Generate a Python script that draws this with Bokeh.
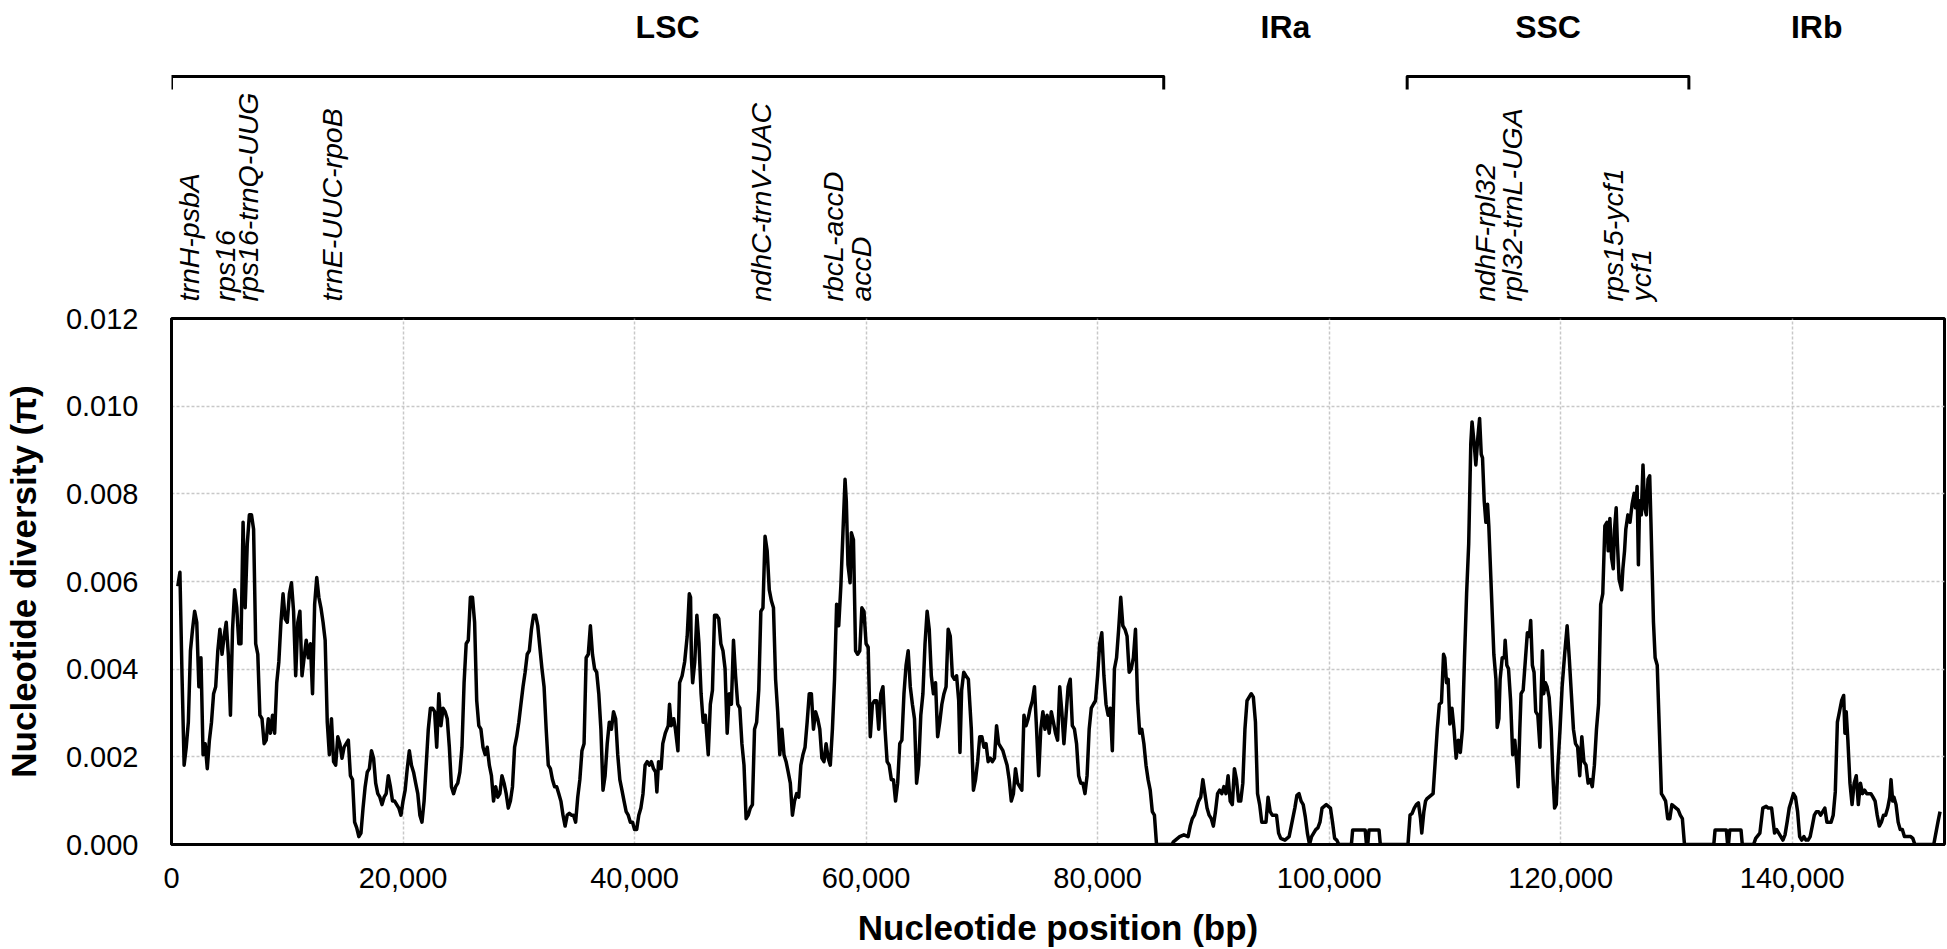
import math
from bokeh.plotting import figure
from bokeh.models import Range1d, FixedTicker, NumeralTickFormatter, PrintfTickFormatter
from bokeh.layouts import column
from bokeh.embed import file_html
from bokeh.resources import INLINE
from bokeh.core.properties import value

# ---------------- data ----------------
positions = [
    545, 727, 909, 1091, 1273, 1454, 1636, 1818, 2000, 2182, 2364, 2545, 2727, 2909, 3091, 3273, 3454, 3636, 3818, 4000,
    4182, 4364, 4545, 4727, 4909, 5091, 5273, 5454, 5636, 5818, 6000, 6182, 6364, 6545, 6727, 6909, 7091, 7273, 7454, 7636,
    7818, 8000, 8182, 8364, 8545, 8727, 8909, 9091, 9273, 9454, 9636, 9818, 10000, 10182, 10364, 10545, 10727, 10909, 11091, 11273,
    11454, 11636, 11818, 12000, 12182, 12364, 12545, 12727, 12909, 13091, 13273, 13454, 13636, 13818, 14000, 14182, 14364, 14545, 14727, 14909,
    15091, 15273, 15454, 15636, 15818, 16000, 16182, 16364, 16545, 16727, 16909, 17091, 17273, 17454, 17636, 17818, 18000, 18182, 18364, 18545,
    18727, 18909, 19091, 19273, 19454, 19636, 19818, 20000, 20182, 20364, 20545, 20727, 20909, 21091, 21273, 21454, 21636, 21818, 22000, 22182,
    22364, 22545, 22727, 22909, 23091, 23273, 23454, 23636, 23818, 24000, 24182, 24364, 24545, 24727, 24909, 25091, 25273, 25454, 25636, 25818,
    26000, 26182, 26364, 26545, 26727, 26909, 27091, 27273, 27454, 27636, 27818, 28000, 28182, 28364, 28545, 28727, 28909, 29091, 29273, 29454,
    29636, 29818, 30000, 30182, 30364, 30545, 30727, 30909, 31091, 31273, 31454, 31636, 31818, 32000, 32182, 32364, 32545, 32727, 32909, 33091,
    33273, 33454, 33636, 33818, 34000, 34182, 34364, 34545, 34727, 34909, 35091, 35273, 35454, 35636, 35818, 36000, 36182, 36364, 36545, 36727,
    36909, 37091, 37273, 37454, 37636, 37818, 38000, 38182, 38364, 38545, 38727, 38909, 39091, 39273, 39454, 39636, 39818, 40000, 40182, 40364,
    40545, 40727, 40909, 41091, 41273, 41454, 41636, 41818, 41927, 42072, 42290, 42436, 42654, 42908, 43018, 43163, 43381, 43527, 43745, 43890,
    44108, 44327, 44545, 44727, 44835, 44908, 45017, 45199, 45381, 45563, 45744, 45926, 46108, 46363, 46544, 46726, 46908, 47090, 47272, 47453,
    47635, 47817, 47999, 48181, 48362, 48544, 48726, 48908, 49090, 49271, 49453, 49635, 49817, 49999, 50180, 50362, 50544, 50726, 50908, 51089,
    51271, 51453, 51635, 51817, 51998, 52180, 52362, 52544, 52726, 52907, 53089, 53271, 53453, 53635, 53816, 53998, 54180, 54362, 54544, 54725,
    54907, 55089, 55271, 55453, 55634, 55816, 55998, 56180, 56362, 56543, 56725, 56907, 57089, 57271, 57452, 57634, 57816, 57998, 58180, 58289,
    58434, 58616, 58725, 58907, 59089, 59270, 59452, 59634, 59816, 59998, 60179, 60361, 60543, 60725, 60907, 61088, 61270, 61452, 61634, 61816,
    61997, 62179, 62361, 62543, 62725, 62906, 63088, 63270, 63452, 63634, 63815, 63997, 64179, 64361, 64543, 64724, 64906, 65088, 65270, 65452,
    65633, 65815, 65997, 66179, 66361, 66542, 66724, 66906, 67088, 67270, 67451, 67633, 67815, 67997, 68106, 68251, 68433, 68615, 68833, 69088,
    69269, 69451, 69633, 69815, 69997, 70178, 70360, 70542, 70724, 70906, 71087, 71269, 71451, 71633, 71815, 71996, 72178, 72360, 72542, 72724,
    72905, 73087, 73269, 73451, 73633, 73814, 73996, 74178, 74360, 74542, 74723, 74905, 75087, 75269, 75451, 75632, 75814, 75996, 76178, 76360,
    76541, 76723, 76905, 77087, 77269, 77450, 77632, 77814, 77996, 78178, 78359, 78541, 78723, 78905, 79087, 79268, 79450, 79632, 79814, 79996,
    80177, 80359, 80541, 80723, 80905, 81086, 81268, 81450, 81632, 81814, 81995, 82177, 82359, 82541, 82723, 82904, 83086, 83268, 83450, 83632,
    83813, 83995, 84177, 84359, 84541, 84722, 84904, 85086, 85268, 86433, 86540, 86722, 87086, 87449, 87813, 87995, 88177, 88358, 88540, 88722,
    88904, 89086, 89267, 89449, 89631, 89813, 89995, 90176, 90358, 90540, 90722, 90904, 91085, 91267, 91449, 91631, 91813, 91994, 92176, 92358,
    92540, 92722, 92903, 93085, 93267, 93449, 93631, 93812, 93994, 94176, 94358, 94540, 94721, 94903, 95085, 95267, 95449, 95630, 95812, 96176,
    96539, 96721, 96851, 97032, 97213, 97394, 97575, 97756, 97937, 98118, 98299, 98480, 98660, 98841, 99022, 99203, 99384, 99565, 99746, 99927,
    100108, 100289, 100470, 100651, 100832, 101918, 102026, 103112, 103220, 103329, 103437, 104306, 104414, 106803, 106984, 107165, 107346, 107527, 107708, 107889,
    107997, 108178, 108323, 108432, 108613, 108794, 108975, 109156, 109337, 109517, 109698, 109879, 109988, 110133, 110277, 110422, 110603, 110784, 110965, 111146,
    111327, 111508, 111689, 111870, 112051, 112232, 112340, 112521, 112666, 112847, 112992, 113136, 113245, 113390, 113535, 113679, 113788, 113969, 114114, 114222,
    114403, 114512, 114657, 114765, 114946, 115127, 115199, 115344, 115489, 115670, 115851, 116032, 116213, 116321, 116466, 116575, 116755, 116936, 117117, 117298,
    117407, 117552, 117696, 117841, 118022, 118203, 118312, 118420, 118529, 118674, 118818, 118999, 119180, 119325, 119470, 119614, 119759, 119940, 120121, 120338,
    120555, 120736, 120917, 121098, 121279, 121460, 121641, 121822, 122003, 122184, 122365, 122546, 122727, 122908, 123089, 123270, 123451, 123632, 123813, 123993,
    124102, 124247, 124392, 124536, 124645, 124790, 124898, 125043, 125260, 125369, 125513, 125622, 125803, 125984, 126165, 126346, 126454, 126599, 126708, 126816,
    126961, 127106, 127251, 127395, 127540, 127685, 127793, 127902, 128011, 128155, 128336, 128517, 128698, 128879, 129060, 129241, 129422, 129603, 129784, 129965,
    130146, 130327, 130508, 130689, 133222, 133330, 134308, 134416, 134489, 134597, 135574, 135683, 136660, 136841, 137203, 137456, 137746, 137927, 138216, 138470,
    138650, 138831, 139012, 139193, 139374, 139555, 139736, 139917, 140098, 140279, 140460, 140640, 140821, 141002, 141183, 141364, 141545, 141726, 141907, 142088,
    142269, 142450, 142631, 142812, 142993, 143174, 143355, 143536, 143717, 143898, 144079, 144260, 144441, 144550, 144658, 144803, 144984, 145165, 145346, 145527,
    145707, 145888, 146069, 146250, 146431, 146612, 146793, 146974, 147155, 147336, 147517, 147698, 147879, 148060, 148241, 148422, 148530, 148675, 148784, 148965,
    149146, 149326, 149507, 149688, 150231, 150412, 150592, 152221, 152583, 152764,
]

diversity = [
    0.00589, 0.00621, 0.00385, 0.00181, 0.00222, 0.00279, 0.00442, 0.00491, 0.00532, 0.00507, 0.00360, 0.00426, 0.00205, 0.00230, 0.00173, 0.00238, 0.00279, 0.00344, 0.00360, 0.00442,
    0.00491, 0.00434, 0.00475, 0.00507, 0.00434, 0.00295, 0.00491, 0.00581, 0.00540, 0.00458, 0.00458, 0.00735, 0.00540, 0.00686, 0.00752, 0.00752, 0.00719, 0.00458, 0.00434, 0.00295,
    0.00287, 0.00230, 0.00238, 0.00287, 0.00254, 0.00295, 0.00254, 0.00369, 0.00417, 0.00507, 0.00572, 0.00515, 0.00507, 0.00572, 0.00597, 0.00532, 0.00385, 0.00507, 0.00532, 0.00385,
    0.00426, 0.00466, 0.00426, 0.00458, 0.00344, 0.00548, 0.00609, 0.00564, 0.00540, 0.00507, 0.00466, 0.00279, 0.00205, 0.00287, 0.00189, 0.00181, 0.00246, 0.00230, 0.00197, 0.00222,
    0.00230, 0.00238, 0.00157, 0.00148, 0.00051, 0.00038, 0.00018, 0.00026, 0.00083, 0.00132, 0.00165, 0.00173, 0.00214, 0.00197, 0.00140, 0.00116, 0.00108, 0.00091, 0.00108, 0.00116,
    0.00157, 0.00132, 0.00099, 0.00099, 0.00091, 0.00083, 0.00067, 0.00099, 0.00124, 0.00173, 0.00214, 0.00181, 0.00165, 0.00140, 0.00116, 0.00067, 0.00051, 0.00099, 0.00181, 0.00263,
    0.00311, 0.00311, 0.00303, 0.00222, 0.00344, 0.00271, 0.00311, 0.00303, 0.00287, 0.00222, 0.00132, 0.00116, 0.00132, 0.00140, 0.00165, 0.00222, 0.00369, 0.00458, 0.00466, 0.00564,
    0.00564, 0.00507, 0.00328, 0.00271, 0.00263, 0.00222, 0.00205, 0.00222, 0.00181, 0.00157, 0.00099, 0.00132, 0.00108, 0.00116, 0.00157, 0.00140, 0.00116, 0.00083, 0.00099, 0.00132,
    0.00222, 0.00246, 0.00279, 0.00320, 0.00360, 0.00393, 0.00434, 0.00442, 0.00491, 0.00523, 0.00523, 0.00499, 0.00450, 0.00401, 0.00360, 0.00263, 0.00181, 0.00173, 0.00148, 0.00132,
    0.00132, 0.00116, 0.00099, 0.00067, 0.00042, 0.00067, 0.00071, 0.00067, 0.00067, 0.00051, 0.00108, 0.00148, 0.00214, 0.00230, 0.00426, 0.00434, 0.00499, 0.00434, 0.00401, 0.00393,
    0.00344, 0.00263, 0.00124, 0.00157, 0.00230, 0.00279, 0.00263, 0.00303, 0.00287, 0.00205, 0.00148, 0.00124, 0.00099, 0.00075, 0.00067, 0.00051, 0.00051, 0.00034, 0.00034, 0.00067,
    0.00083, 0.00116, 0.00181, 0.00189, 0.00181, 0.00189, 0.00173, 0.00165, 0.00120, 0.00189, 0.00173, 0.00230, 0.00254, 0.00271, 0.00320, 0.00271, 0.00287, 0.00263, 0.00214, 0.00369,
    0.00385, 0.00417, 0.00475, 0.00572, 0.00564, 0.00426, 0.00369, 0.00417, 0.00523, 0.00458, 0.00344, 0.00279, 0.00295, 0.00205, 0.00320, 0.00352, 0.00523, 0.00523, 0.00515, 0.00458,
    0.00442, 0.00401, 0.00254, 0.00344, 0.00320, 0.00466, 0.00385, 0.00320, 0.00311, 0.00230, 0.00181, 0.00059, 0.00067, 0.00083, 0.00091, 0.00263, 0.00279, 0.00352, 0.00532, 0.00540,
    0.00703, 0.00670, 0.00581, 0.00556, 0.00540, 0.00377, 0.00303, 0.00205, 0.00263, 0.00205, 0.00189, 0.00165, 0.00140, 0.00067, 0.00099, 0.00116, 0.00108, 0.00181, 0.00205, 0.00222,
    0.00279, 0.00344, 0.00344, 0.00263, 0.00303, 0.00287, 0.00263, 0.00197, 0.00189, 0.00230, 0.00197, 0.00181, 0.00263, 0.00377, 0.00548, 0.00499, 0.00589, 0.00711, 0.00833, 0.00784,
    0.00638, 0.00597, 0.00711, 0.00695, 0.00442, 0.00434, 0.00442, 0.00540, 0.00532, 0.00458, 0.00450, 0.00246, 0.00320, 0.00328, 0.00328, 0.00263, 0.00344, 0.00360, 0.00263, 0.00189,
    0.00181, 0.00148, 0.00148, 0.00099, 0.00140, 0.00230, 0.00238, 0.00344, 0.00409, 0.00442, 0.00360, 0.00320, 0.00287, 0.00140, 0.00181, 0.00295, 0.00344, 0.00458, 0.00532, 0.00491,
    0.00385, 0.00344, 0.00369, 0.00246, 0.00279, 0.00320, 0.00344, 0.00360, 0.00491, 0.00475, 0.00385, 0.00377, 0.00385, 0.00328, 0.00210, 0.00352, 0.00393, 0.00385, 0.00377, 0.00263,
    0.00124, 0.00148, 0.00189, 0.00246, 0.00246, 0.00222, 0.00230, 0.00189, 0.00197, 0.00189, 0.00197, 0.00271, 0.00230, 0.00222, 0.00214, 0.00197, 0.00181, 0.00148, 0.00099, 0.00116,
    0.00173, 0.00140, 0.00132, 0.00124, 0.00295, 0.00271, 0.00287, 0.00311, 0.00328, 0.00360, 0.00263, 0.00157, 0.00263, 0.00303, 0.00263, 0.00295, 0.00254, 0.00303, 0.00279, 0.00254,
    0.00238, 0.00360, 0.00303, 0.00230, 0.00295, 0.00360, 0.00377, 0.00271, 0.00263, 0.00230, 0.00157, 0.00140, 0.00140, 0.00116, 0.00157, 0.00263, 0.00311, 0.00320, 0.00328, 0.00385,
    0.00458, 0.00483, 0.00385, 0.00320, 0.00295, 0.00311, 0.00214, 0.00401, 0.00426, 0.00491, 0.00564, 0.00499, 0.00491, 0.00475, 0.00393, 0.00401, 0.00426, 0.00491, 0.00328, 0.00254,
    0.00263, 0.00230, 0.00181, 0.00148, 0.00124, 0.00075, 0.00067, 0.00000, 0.00000, 0.00000, 0.00006, 0.00010, 0.00018, 0.00022, 0.00018, 0.00042, 0.00059, 0.00067, 0.00083, 0.00099,
    0.00108, 0.00148, 0.00116, 0.00083, 0.00067, 0.00059, 0.00042, 0.00075, 0.00116, 0.00124, 0.00116, 0.00132, 0.00116, 0.00157, 0.00099, 0.00091, 0.00173, 0.00148, 0.00099, 0.00099,
    0.00140, 0.00263, 0.00328, 0.00336, 0.00344, 0.00336, 0.00279, 0.00116, 0.00091, 0.00051, 0.00051, 0.00051, 0.00108, 0.00075, 0.00067, 0.00067, 0.00067, 0.00026, 0.00014, 0.00010,
    0.00018, 0.00042, 0.00059, 0.00083, 0.00112, 0.00116, 0.00099, 0.00091, 0.00063, 0.00026, 0.00000, 0.00018, 0.00026, 0.00034, 0.00038, 0.00051, 0.00083, 0.00087, 0.00091, 0.00087,
    0.00083, 0.00051, 0.00014, 0.00010, 0.00000, 0.00000, 0.00033, 0.00033, 0.00000, 0.00000, 0.00033, 0.00033, 0.00000, 0.00000, 0.00067, 0.00071, 0.00083, 0.00091, 0.00095, 0.00059,
    0.00026, 0.00075, 0.00099, 0.00104, 0.00108, 0.00112, 0.00116, 0.00189, 0.00263, 0.00320, 0.00324, 0.00434, 0.00426, 0.00369, 0.00377, 0.00275, 0.00311, 0.00263, 0.00197, 0.00238,
    0.00210, 0.00263, 0.00426, 0.00572, 0.00686, 0.00915, 0.00964, 0.00915, 0.00866, 0.00931, 0.00972, 0.00890, 0.00882, 0.00784, 0.00735, 0.00776, 0.00727, 0.00605, 0.00507, 0.00434,
    0.00377, 0.00267, 0.00287, 0.00377, 0.00426, 0.00426, 0.00466, 0.00409, 0.00401, 0.00328, 0.00205, 0.00238, 0.00181, 0.00132, 0.00263, 0.00344, 0.00352, 0.00417, 0.00483, 0.00475,
    0.00511, 0.00409, 0.00393, 0.00303, 0.00295, 0.00222, 0.00344, 0.00442, 0.00344, 0.00369, 0.00360, 0.00336, 0.00263, 0.00157, 0.00083, 0.00091, 0.00181, 0.00263, 0.00360, 0.00434,
    0.00499, 0.00426, 0.00344, 0.00263, 0.00230, 0.00222, 0.00157, 0.00246, 0.00189, 0.00181, 0.00140, 0.00148, 0.00132, 0.00181, 0.00263, 0.00320, 0.00548, 0.00572, 0.00727, 0.00735,
    0.00670, 0.00744, 0.00654, 0.00629, 0.00719, 0.00768, 0.00686, 0.00605, 0.00581, 0.00629, 0.00670, 0.00719, 0.00752, 0.00735, 0.00776, 0.00801, 0.00768, 0.00817, 0.00638, 0.00784,
    0.00752, 0.00866, 0.00768, 0.00752, 0.00833, 0.00841, 0.00735, 0.00621, 0.00507, 0.00426, 0.00409, 0.00263, 0.00116, 0.00108, 0.00099, 0.00059, 0.00059, 0.00091, 0.00087, 0.00083,
    0.00079, 0.00067, 0.00059, 0.00000, 0.00000, 0.00033, 0.00033, 0.00000, 0.00000, 0.00033, 0.00033, 0.00000, 0.00000, 0.00014, 0.00026, 0.00083, 0.00087, 0.00083, 0.00083, 0.00026,
    0.00034, 0.00026, 0.00018, 0.00010, 0.00022, 0.00051, 0.00083, 0.00099, 0.00116, 0.00108, 0.00075, 0.00018, 0.00010, 0.00018, 0.00010, 0.00010, 0.00018, 0.00042, 0.00067, 0.00075,
    0.00075, 0.00067, 0.00075, 0.00083, 0.00051, 0.00051, 0.00051, 0.00067, 0.00120, 0.00279, 0.00303, 0.00328, 0.00340, 0.00254, 0.00303, 0.00238, 0.00140, 0.00091, 0.00140, 0.00157,
    0.00091, 0.00140, 0.00116, 0.00124, 0.00116, 0.00116, 0.00116, 0.00108, 0.00099, 0.00067, 0.00042, 0.00051, 0.00067, 0.00067, 0.00083, 0.00108, 0.00148, 0.00099, 0.00108, 0.00091,
    0.00051, 0.00034, 0.00034, 0.00018, 0.00018, 0.00014, 0.00000, 0.00000, 0.00051, 0.00075,
]

regions = ["LSC", "IRa", "SSC", "IRb"]
region_start = [0, 85708, 106736, 131070]
region_end = [85708, 106736, 131070, 153150]
bracketed_regions = ["LSC", "SSC"]

gene_labels = ["trnH-psbA", "rps16", "rps16-trnQ-UUG", "trnE-UUC-rpoB", "ndhC-trnV-UAC",
               "rbcL-accD", "accD", "ndhF-rpl32", "rpl32-trnL-UGA", "rps15-ycf1", "ycf1"]
gene_pos = [1554, 4663, 6606, 13860, 50950, 57168, 59585, 113428, 115760, 124480, 126900]

x_ticks = [0, 20000, 40000, 60000, 80000, 100000, 120000, 140000]
y_ticks = [0.000, 0.002, 0.004, 0.006, 0.008, 0.010, 0.012]

X_TITLE = "Nucleotide position (bp)"
Y_TITLE = "Nucleotide diversity (\u03c0)"

# ---------------- layout ----------------
FONT = "Liberation Sans"
W = 1947
LEFT = 170
RIGHT = 3
HEAD_H = 302
MAIN_H = 647

xr = Range1d(0, region_end[-1])

# header figure (region names, brackets, gene labels); y in canvas pixels from top
head = figure(width=W, height=HEAD_H, x_range=xr, y_range=Range1d(HEAD_H, 0),
              output_backend="svg", toolbar_location=None,
              x_axis_location=None, y_axis_location=None,
              min_border_left=LEFT, min_border_right=RIGHT, min_border_top=0, min_border_bottom=0)
head.grid.visible = False
head.outline_line_color = None

mids = [(s + e) / 2 for s, e in zip(region_start, region_end)]
head.text(x=mids, y=[26] * len(regions), text=regions,
          text_font=value(FONT), text_font_size="32px", text_font_style="bold",
          text_color="black", text_align="center", text_baseline="alphabetic")

bx, by = [], []
for name, s, e in zip(regions, region_start, region_end):
    if name in bracketed_regions:
        bx.append([s, s, e, e])
        by.append([89, 76, 76, 89])
head.multi_line(xs=bx, ys=by, line_color="black", line_width=3, line_join="round")

head.text(x=gene_pos, y=[301] * len(gene_pos), text=gene_labels, angle=math.pi / 2,
          text_font=value(FONT), text_font_size="28.5px", text_font_style="italic",
          text_color="black", text_align="left", text_baseline="middle")

# main figure
p = figure(width=W, height=MAIN_H, x_range=xr, y_range=Range1d(y_ticks[0], y_ticks[-1]),
           output_backend="svg", toolbar_location=None,
           min_border_left=LEFT, min_border_right=RIGHT, min_border_top=16, min_border_bottom=105)

p.line(positions, diversity, line_color="black", line_width=3.5, line_join="round")

p.xaxis.ticker = FixedTicker(ticks=x_ticks)
p.xaxis.formatter = NumeralTickFormatter(format="0,0")
p.yaxis.ticker = FixedTicker(ticks=y_ticks)
p.yaxis.formatter = PrintfTickFormatter(format="%.3f")

for ax in (p.xaxis[0], p.yaxis[0]):
    ax.major_tick_out = 0
    ax.major_tick_in = 0
    ax.minor_tick_out = 0
    ax.minor_tick_in = 0
    ax.axis_line_width = 3
    ax.axis_line_color = "black"
    ax.major_label_text_font = FONT
    ax.major_label_text_font_size = "29px"
    ax.major_label_text_color = "black"
    ax.axis_label_text_font = FONT
    ax.axis_label_text_font_style = "bold"
    ax.axis_label_text_color = "black"

p.xaxis.major_label_standoff = 23
p.yaxis.major_label_standoff = 33
p.xaxis.axis_label = X_TITLE
p.xaxis.axis_label_text_font_size = "35px"
p.xaxis.axis_label_standoff = 17
p.yaxis.axis_label = Y_TITLE
p.yaxis.axis_label_text_font_size = "35px"
p.yaxis.axis_label_standoff = 20

p.grid.grid_line_color = "#c8c8c8"
p.grid.grid_line_dash = "3 2"
p.grid.grid_line_width = 1.5
p.outline_line_color = "black"
p.outline_line_width = 3
p.background_fill_color = "white"

layout = column(head, p)
open("out.html", "w").write(file_html(layout, INLINE))
